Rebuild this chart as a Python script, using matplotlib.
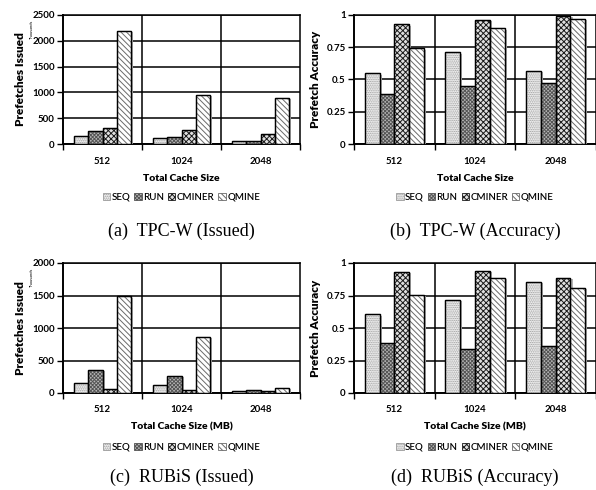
import numpy as np
import matplotlib
matplotlib.use('Agg')
import matplotlib.pyplot as plt
import matplotlib.patheffects as pe
from matplotlib.patches import Patch

# ── Data ─────────────────────────────────────────────────────
cache_sizes = ['512', '1024', '2048']
series = ['SEQ', 'RUN', 'CMINER', 'QMINE']

tpcw_issued = {
    'SEQ': [161, 110, 65],
    'RUN': [258, 142, 65],
    'CMINER': [304, 271, 200],
    'QMINE': [2196, 956, 891],
}
tpcw_accuracy = {
    'SEQ': [0.548, 0.711, 0.566],
    'RUN': [0.385, 0.447, 0.470],
    'CMINER': [0.928, 0.961, 0.995],
    'QMINE': [0.742, 0.897, 0.969],
}
rubis_issued = {
    'SEQ': [154, 128, 36],
    'RUN': [359, 267, 51],
    'CMINER': [62, 46, 36],
    'QMINE': [1487, 862, 77],
}
rubis_accuracy = {
    'SEQ': [0.606, 0.716, 0.853],
    'RUN': [0.381, 0.335, 0.361],
    'CMINER': [0.930, 0.940, 0.884],
    'QMINE': [0.755, 0.884, 0.807],
}

issued_ticks = [0, 500, 1000, 1500, 2000, 2500]
issued_ticks_rubis = [0, 500, 1000, 1500, 2000]
acc_ticks = [0, 0.25, 0.5, 0.75, 1]
acc_ticklabels = ['0', '0.25', '0.5', '0.75', '1']

# ── Styles ───────────────────────────────────────────────────
STYLE = {
    'SEQ': dict(face='#f4f4f4', hatch='.........', hcol='#9a9a9a'),
    'RUN': dict(face='#b8b8b8', hatch='xxxxxxxxx', hcol='#555555'),
    'CMINER': dict(face='#e0e0e0', hatch='xxxxxx', hcol='#1a1a1a'),
    'QMINE': dict(face='white', hatch='\\\\\\\\\\\\', hcol='#6a6a6a'),
}
TICK_FONT = 'Lato'
plt.rcParams['hatch.linewidth'] = 0.7

W, H = 596, 490
fig = plt.figure(figsize=(W / 100, H / 100), dpi=100)


def px_axes(l, r, t, b):
    return fig.add_axes([l / W, 1 - b / H, (r - l) / W, (b - t) / H])


def draw_panel(ax, data, ylim, yticks, yticklabels, ylabel, xlabel, caption,
               thousands, ycap_px, leg_px, xl_px):
    bw = 0.183
    x = np.arange(len(cache_sizes))
    shadow = [pe.SimplePatchShadow(offset=(1.5, -1.0), shadow_rgbFace='0.7', alpha=1.0),
              pe.Normal()]
    for i, s in enumerate(series):
        st = STYLE[s]
        xs = x + (i - 1.5) * bw
        ax.bar(xs, data[s], bw, color=st['face'], edgecolor='black', linewidth=0.9,
               zorder=3, path_effects=shadow)
        ax.bar(xs, data[s], bw, color='none', edgecolor=st['hcol'], linewidth=0,
               hatch=st['hatch'], zorder=4)
        ax.bar(xs, data[s], bw, color='none', edgecolor='black', linewidth=0.9,
               zorder=5)
    ax.set_xlim(-0.5, 2.5)
    ax.set_ylim(*ylim)
    ax.set_yticks(yticks)
    ax.set_yticklabels(yticklabels)
    ax.set_xticks(x)
    ax.set_xticklabels(cache_sizes)
    ax.set_xticks([-0.5, 0.5, 1.5, 2.5], minor=True)
    ax.tick_params(axis='x', which='major', length=0, pad=9)
    ax.tick_params(axis='x', which='minor', length=4, width=1, direction='out')
    ax.tick_params(axis='y', length=4, width=1, direction='out', pad=2)
    for lab in ax.get_xticklabels() + ax.get_yticklabels():
        lab.set_fontfamily(TICK_FONT)
        lab.set_fontweight('bold')
        lab.set_fontsize(7)
    ax.yaxis.grid(True, color='black', linewidth=1.1, zorder=0)
    for xv in [0.5, 1.5]:
        ax.axvline(xv, color='black', linewidth=1.1, zorder=1)
    for sp in ax.spines.values():
        sp.set_color('black')
        sp.set_linewidth(1.1)
    ax.spines['bottom'].set_linewidth(1.4)
    ax.spines['left'].set_linewidth(1.4)
    ax.set_axisbelow(True)

    ax.set_ylabel(ylabel, fontfamily=TICK_FONT, fontweight='heavy', fontsize=8.5,
                  labelpad=4)

    bb = ax.get_position()
    cx = (bb.x0 + bb.x1) / 2
    fig.text(cx, 1 - xl_px / H, xlabel, ha='center', va='center',
             fontfamily=TICK_FONT, fontweight='heavy', fontsize=7.5)

    handles = [Patch(facecolor=STYLE[s]['face'], edgecolor=STYLE[s]['hcol'],
                     hatch=STYLE[s]['hatch'], linewidth=0.6) for s in series]
    fig.legend(handles, series, loc='center', bbox_to_anchor=(cx, 1 - leg_px / H),
               ncol=4, frameon=False, handlelength=0.75, handleheight=0.75,
               handletextpad=0.15, columnspacing=0.4,
               prop={'family': TICK_FONT, 'size': 7, 'weight': 'semibold'})

    fig.text(cx, 1 - ycap_px / H, caption, ha='center', va='center',
             fontfamily='Liberation Serif', fontsize=13)

    if thousands:
        fig.text(bb.x0 - 31 / W, bb.y1 - 14 / H, 'Thousands', rotation=90,
                 ha='center', va='center', fontfamily=TICK_FONT, fontsize=3)


axA = px_axes(63, 300, 15, 144)
axB = px_axes(354, 596, 15, 144)
axC = px_axes(63, 300, 263, 393)
axD = px_axes(354, 596, 263, 393)

draw_panel(axA, tpcw_issued, (0, 2500), issued_ticks, [str(t) for t in issued_ticks],
           'Prefetches Issued', 'Total Cache Size', '(a)  TPC-W (Issued)', True,
           231, 197, 178)
draw_panel(axB, tpcw_accuracy, (0, 1), acc_ticks, acc_ticklabels,
           'Prefetch Accuracy', 'Total Cache Size', '(b)  TPC-W (Accuracy)', False,
           231, 197, 178)
draw_panel(axC, rubis_issued, (0, 2000), issued_ticks_rubis,
           [str(t) for t in issued_ticks_rubis],
           'Prefetches Issued', 'Total Cache Size (MB)', '(c)  RUBiS (Issued)', True,
           477, 447, 427)
draw_panel(axD, rubis_accuracy, (0, 1), acc_ticks, acc_ticklabels,
           'Prefetch Accuracy', 'Total Cache Size (MB)', '(d)  RUBiS (Accuracy)', False,
           477, 447, 427)

fig.savefig('out.png', dpi=100, facecolor='white')
